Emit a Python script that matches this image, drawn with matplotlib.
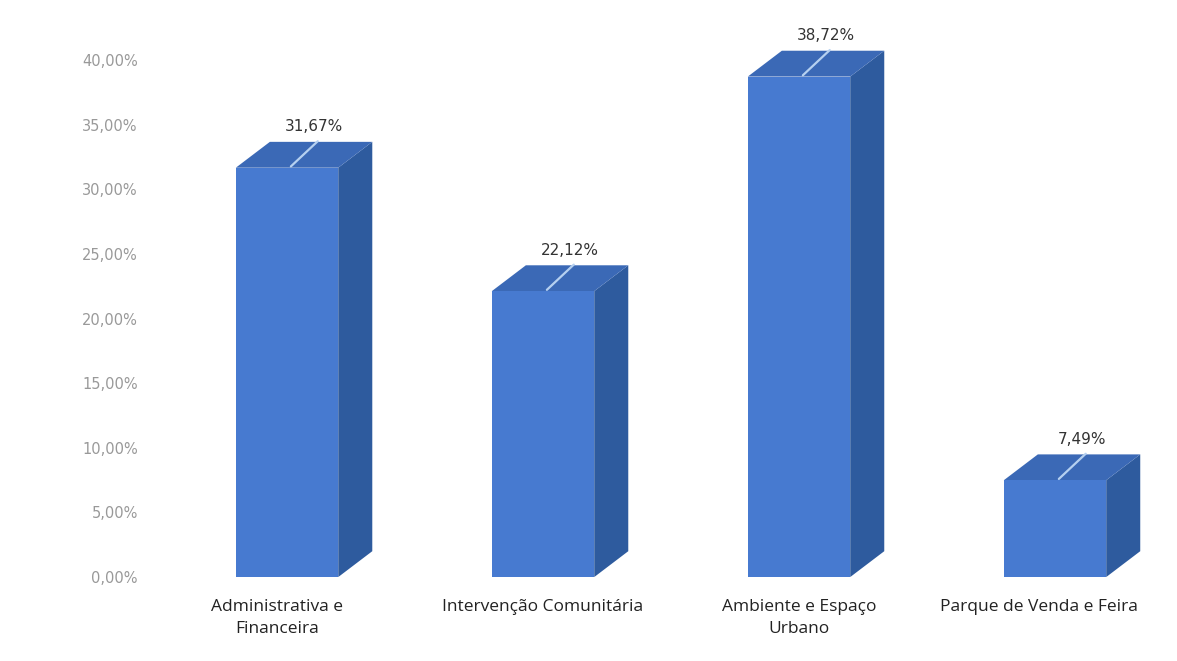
import matplotlib
matplotlib.use("Agg")
from matplotlib import pyplot as plt
from matplotlib.patches import Polygon
from matplotlib.transforms import ScaledTranslation

categories = ["Administrativa e\nFinanceira", "Intervenção Comunitária",
              "Ambiente e Espaço\nUrbano", "Parque de Venda e Feira"]
values = [31.67, 22.12, 38.72, 7.49]
value_labels = ["31,67%", "22,12%", "38,72%", "7,49%"]
yticks = [0, 5, 10, 15, 20, 25, 30, 35, 40]
ytick_labels = ["0,00%", "5,00%", "10,00%", "15,00%", "20,00%",
                "25,00%", "30,00%", "35,00%", "40,00%"]

plt.rcParams['font.family'] = ['Open Sans', 'DejaVu Sans']

fig = plt.figure(figsize=(11.77, 6.61), dpi=100)
ax = fig.add_axes([0.136, 0.127, 0.858, 0.8604])

width = 0.40
dx = 0.133   # depth of the fake 3d box, x
dy = 2.0     # depth, y (percent units)
front_col = "#477ad0"
side_col = "#2e5b9e"
top_col = "#3b69b6"

xs = list(range(len(values)))
ax.bar(xs, values, width=width, color=front_col, edgecolor="none", zorder=3)

for x, v, lab in zip(xs, values, value_labels):
    l, r = x - width / 2, x + width / 2
    # side
    ax.add_patch(Polygon([(r, 0), (r + dx, dy), (r + dx, v + dy), (r, v)],
                         closed=True, color=side_col, lw=0, zorder=2))
    # top
    ax.add_patch(Polygon([(l, v), (l + dx, v + dy), (r + dx, v + dy), (r, v)],
                         closed=True, color=top_col, lw=0, zorder=2))
    # leader line
    ax.plot([x + 0.015, x + 0.12], [v + 0.1, v + dy + 0.05],
            color="#b5d0f0", lw=1.6, zorder=4, solid_capstyle="round")
    ax.text(x + 0.105, v + dy + 0.6, lab, ha="center", va="bottom",
            fontsize=11, color="#333333", zorder=5, family="DejaVu Sans")

ax.set_xlim(-0.496, 3.449)
ax.set_ylim(0, 44)
ax.set_yticks(yticks)
ax.set_yticklabels(ytick_labels, color="#999999", fontsize=10.5,
                   family="DejaVu Sans")
ax.set_xticks(xs)
ax.set_xticklabels(categories, fontsize=12.5, color="#222222",
                   multialignment="center", linespacing=1.5)
ax.tick_params(axis="y", length=0, pad=16)
ax.tick_params(axis="x", length=0, pad=16)
for s in ax.spines.values():
    s.set_visible(False)

# small horizontal nudges of the category labels, as in the original
for t, off in zip(ax.get_xticklabels(), [-0.1, 0.0, 0.0, -0.16]):
    t.set_transform(t.get_transform() + ScaledTranslation(off, 0, fig.dpi_scale_trans))

fig.savefig("out.png", dpi=100)
